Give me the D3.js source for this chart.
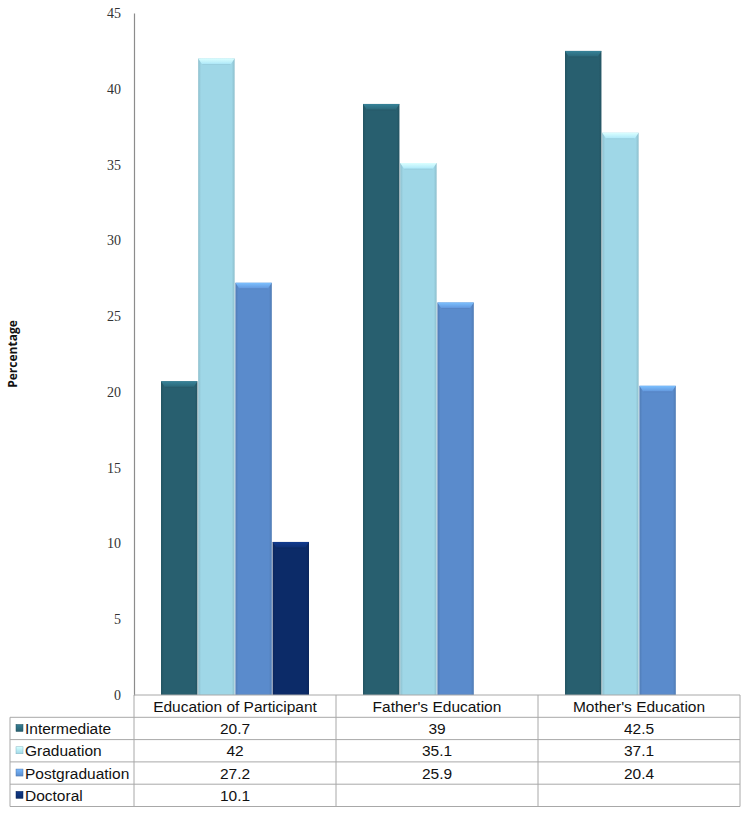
<!DOCTYPE html>
<html><head><meta charset="utf-8">
<script src="https://cdn.jsdelivr.net/npm/d3@7"></script>
<style>body{margin:0;background:#fff;} svg{display:block;}</style>
</head><body>
<script>
const categories = ["Education of Participant", "Father's Education", "Mother's Education"];
const seriesNames = ["Intermediate", "Graduation", "Postgraduation", "Doctoral"];
const intermediate = [20.7, 39, 42.5];
const graduation = [42, 35.1, 37.1];
const postgraduation = [27.2, 25.9, 20.4];
const doctoral = [10.1, null, null];
const yTicks = [0, 5, 10, 15, 20, 25, 30, 35, 40, 45];
const colors = ["#285f6f", "#9fd7e7", "#5a8bcc", "#0c2b68"];

const seriesValues = [intermediate, graduation, postgraduation, doctoral];

const W = 750, H = 815;
const mLeft = 134, mRight = 740, mTop = 13, mBottom = 695;
const tableLeft = 10, rowH = 22.3;

const svg = d3.select("body").append("svg").attr("width", W).attr("height", H);
const defs = svg.append("defs");

colors.forEach((c, i) => {
  const g = defs.append("linearGradient").attr("id", "hg" + i).attr("x1", 0).attr("x2", 1).attr("y1", 0).attr("y2", 0);
  g.append("stop").attr("offset", "0%").attr("stop-color", d3.color(c).darker(0.35));
  g.append("stop").attr("offset", "8%").attr("stop-color", c);
  g.append("stop").attr("offset", "92%").attr("stop-color", c);
  g.append("stop").attr("offset", "100%").attr("stop-color", d3.color(c).darker(0.35));
  const v = defs.append("linearGradient").attr("id", "tg" + i).attr("x1", 0).attr("x2", 0).attr("y1", 0).attr("y2", 1);
  v.append("stop").attr("offset", "0%").attr("stop-color", d3.color(c).brighter(0.9));
  v.append("stop").attr("offset", "100%").attr("stop-color", d3.color(c).brighter(0.2));
  const k = defs.append("linearGradient").attr("id", "kg" + i).attr("x1", 0).attr("x2", 0).attr("y1", 0).attr("y2", 1);
  k.append("stop").attr("offset", "0%").attr("stop-color", d3.color(c).brighter(0.8));
  k.append("stop").attr("offset", "100%").attr("stop-color", c);
});

const y = d3.scaleLinear().domain([0, 45]).range([mBottom, mTop]);
const x0 = d3.scaleBand().domain(categories).range([mLeft, mRight]).padding(0);
const x1 = d3.scaleBand().domain(seriesNames).range([27, x0.bandwidth() - 27]).paddingInner(0.02);

// y axis
const yAxis = d3.axisLeft(y).tickValues(yTicks).tickSize(0).tickPadding(13);
const ga = svg.append("g").attr("transform", `translate(${mLeft},0)`).call(yAxis);
ga.select(".domain").attr("stroke", "#8c8c8c").attr("stroke-width", 1.2);
ga.selectAll("text").attr("font-family", "Liberation Serif, Times New Roman, serif").attr("font-size", 14).attr("fill", "#333");

svg.append("text").attr("transform", `translate(17,${(mTop + mBottom) / 2}) rotate(-90)`)
  .attr("text-anchor", "middle").attr("font-family", "Open Sans, Liberation Sans, sans-serif")
  .attr("font-weight", "bold").attr("font-size", 12).attr("fill", "#111").text("Percentage");

// bars
const data = [];
categories.forEach((c, ci) => seriesNames.forEach((s, si) => {
  const v = seriesValues[si][ci];
  if (v != null) data.push({ c, s, si, v });
}));
const bars = svg.append("g").selectAll("g").data(data).join("g")
  .attr("transform", d => `translate(${x0(d.c) + x1(d.s)},${y(d.v)})`);
bars.append("rect").attr("width", x1.bandwidth()).attr("height", d => mBottom - y(d.v))
  .attr("fill", d => `url(#hg${d.si})`);
// top bevel
bars.append("path").attr("d", () => {
  const w = x1.bandwidth();
  return `M0,0 L${w},0 L${w - 4},6 L4,6 Z`;
}).attr("fill", d => `url(#tg${d.si})`);
bars.append("line").attr("x1", 4).attr("x2", () => x1.bandwidth() - 4).attr("y1", 6).attr("y2", 6)
  .attr("stroke", d => d3.color(colors[d.si]).darker(0.2)).attr("stroke-width", 0.7);

// table
const font = "Liberation Sans, Arial, sans-serif";
const fs = 15.5;
const tg = svg.append("g");
const stroke = "#a8a8a8";
const tableBottom = mBottom + rowH * 5;
tg.append("line").attr("x1", mLeft).attr("x2", mRight).attr("y1", mBottom).attr("y2", mBottom).attr("stroke", stroke);
d3.range(1, 6).forEach(r => {
  tg.append("line").attr("x1", tableLeft).attr("x2", mRight).attr("y1", mBottom + r * rowH).attr("y2", mBottom + r * rowH).attr("stroke", stroke);
});
tg.append("line").attr("x1", tableLeft).attr("x2", tableLeft).attr("y1", mBottom + rowH).attr("y2", tableBottom).attr("stroke", stroke);
categories.forEach(c => {
  tg.append("line").attr("x1", x0(c)).attr("x2", x0(c)).attr("y1", mBottom).attr("y2", tableBottom).attr("stroke", stroke);
});
tg.append("line").attr("x1", mRight).attr("x2", mRight).attr("y1", mBottom).attr("y2", tableBottom).attr("stroke", stroke);

tg.selectAll("text.hdr").data(categories).join("text").attr("class", "hdr")
  .attr("x", d => x0(d) + x0.bandwidth() / 2).attr("y", mBottom + rowH / 2 + 5.5)
  .attr("text-anchor", "middle").attr("font-family", font).attr("font-size", fs).attr("fill", "#111").text(d => d);

seriesNames.forEach((s, si) => {
  const ry = mBottom + (si + 1) * rowH;
  tg.append("rect").attr("x", 16).attr("y", ry + rowH / 2 - 4).attr("width", 7).attr("height", 7)
    .attr("fill", `url(#kg${si})`).attr("stroke", d3.color(colors[si]).darker(0.5)).attr("stroke-width", 0.5);
  tg.append("text").attr("x", 25).attr("y", ry + rowH / 2 + 5.5).attr("font-family", font).attr("font-size", fs)
    .attr("fill", "#111").text(s);
  categories.forEach((c, ci) => {
    const v = seriesValues[si][ci];
    if (v == null) return;
    tg.append("text").attr("x", x0(c) + x0.bandwidth() / 2).attr("y", ry + rowH / 2 + 5.5)
      .attr("text-anchor", "middle").attr("font-family", font).attr("font-size", fs).attr("fill", "#111").text(v);
  });
});
</script>
</body></html>
